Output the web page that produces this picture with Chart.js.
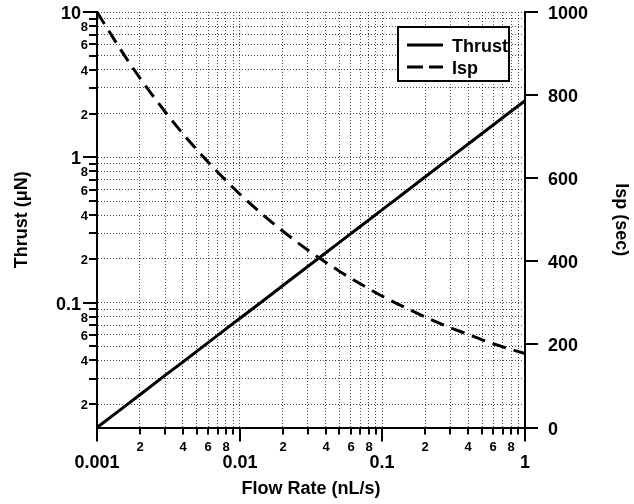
<!DOCTYPE html>
<html>
<head>
<meta charset="utf-8">
<script src="https://cdn.jsdelivr.net/npm/chart.js@4"></script>
<style>
  body { margin: 0; background: #fff; }
</style>
</head>
<body>
<canvas id="chart" width="634" height="504"></canvas>
<script>
// values
const flowRates = [0.001, 0.0015, 0.002, 0.003, 0.004, 0.005, 0.007, 0.01, 0.015, 0.02, 0.03, 0.04, 0.05, 0.07, 0.1, 0.15, 0.2, 0.3, 0.4, 0.5, 0.7, 1];
const thrust = [0.0138, 0.0187, 0.0232, 0.0315, 0.039, 0.0461, 0.0594, 0.0776, 0.105, 0.1305, 0.177, 0.2195, 0.2595, 0.334, 0.436, 0.591, 0.734, 0.995, 1.234, 1.459, 1.878, 2.45];
const isp = [1000, 904, 841, 760, 707, 669, 615, 562, 508, 473, 427, 398, 376, 346, 316, 286, 266, 240, 224, 211, 194, 178];

const xTickValues = [0.001, 0.002, 0.003, 0.004, 0.005, 0.006, 0.007, 0.008, 0.009,
  0.01, 0.02, 0.03, 0.04, 0.05, 0.06, 0.07, 0.08, 0.09,
  0.1, 0.2, 0.3, 0.4, 0.5, 0.6, 0.7, 0.8, 0.9, 1];
const xTickLabels = ['0.001', '2', '', '4', '', '6', '', '8', '',
  '0.01', '2', '', '4', '', '6', '', '8', '',
  '0.1', '2', '', '4', '', '6', '', '8', '', '1'];

const thrustTickValues = [0.02, 0.03, 0.04, 0.05, 0.06, 0.07, 0.08, 0.09,
  0.1, 0.2, 0.3, 0.4, 0.5, 0.6, 0.7, 0.8, 0.9,
  1, 2, 3, 4, 5, 6, 7, 8, 9, 10];
const thrustTickLabels = ['2', '', '4', '', '6', '', '8', '',
  '0.1', '2', '', '4', '', '6', '', '8', '',
  '1', '2', '', '4', '', '6', '', '8', '', '10'];

const ispTickValues = [0, 200, 400, 600, 800, 1000];

const FONT = "'Liberation Sans', Arial, sans-serif";

function isDecade(v) {
  const l = Math.log10(v);
  return Math.abs(l - Math.round(l)) < 1e-9;
}

// tick marks, tick labels and the boxed legend
const axisExtras = {
  id: 'axisExtras',
  afterDraw(chart) {
    const { ctx, chartArea, scales } = chart;
    const ca = chartArea;
    ctx.save();
    ctx.strokeStyle = '#000';
    ctx.fillStyle = '#000';
    ctx.lineWidth = 2;

    const tick = (x1, y1, x2, y2) => {
      ctx.beginPath();
      ctx.moveTo(x1, y1);
      ctx.lineTo(x2, y2);
      ctx.stroke();
    };

    // bottom axis
    ctx.textAlign = 'center';
    ctx.textBaseline = 'alphabetic';
    xTickValues.forEach((v, i) => {
      const px = Math.round(scales.x.getPixelForValue(v));
      const major = isDecade(v);
      tick(px, ca.bottom, px, ca.bottom + (major ? 14 : 7));
      if (!xTickLabels[i]) return;
      if (major) {
        ctx.font = `bold 18px ${FONT}`;
        ctx.fillText(xTickLabels[i], px, ca.bottom + 40);
      } else {
        ctx.font = `bold 13px ${FONT}`;
        ctx.fillText(xTickLabels[i], px, ca.bottom + 23);
      }
    });

    // left axis
    ctx.textAlign = 'right';
    thrustTickValues.forEach((v, i) => {
      const py = Math.round(scales.y.getPixelForValue(v));
      const major = isDecade(v);
      tick(ca.left, py, ca.left - (major ? 14 : 8), py);
      if (!thrustTickLabels[i]) return;
      if (major) {
        ctx.font = `bold 18px ${FONT}`;
        ctx.fillText(thrustTickLabels[i], ca.left - 16, py + 7);
      } else {
        ctx.font = `bold 13px ${FONT}`;
        ctx.fillText(thrustTickLabels[i], ca.left - 9, py + 4.5);
      }
    });

    // right axis
    ctx.textAlign = 'left';
    ctx.font = `bold 18px ${FONT}`;
    ispTickValues.forEach(v => {
      const py = Math.round(scales.y1.getPixelForValue(v));
      tick(ca.right, py, ca.right + 13, py);
      ctx.fillText(String(v), ca.right + 23, py + 7);
    });

    // legend
    const bw = 111, bh = 54;
    const bx = ca.right - 16 - bw, by = ca.top + 15;
    ctx.fillStyle = '#fff';
    ctx.fillRect(bx, by, bw, bh);
    ctx.strokeRect(bx, by, bw, bh);
    ctx.fillStyle = '#000';
    ctx.font = `bold 18px ${FONT}`;
    ctx.textAlign = 'left';
    chart.data.datasets.forEach((ds, i) => {
      const ry = by + 18 + i * 22;
      ctx.lineWidth = ds.borderWidth;
      ctx.setLineDash(ds.borderDash ? [16, 6] : []);
      tick(bx + 9, ry, bx + 45, ry);
      ctx.setLineDash([]);
      ctx.fillText(ds.label, bx + 54, ry + 7);
    });
    ctx.restore();
  }
};

const gridStyle = {
  color: 'rgba(0,0,0,0.7)',
  lineWidth: 1,
  drawTicks: false
};

new Chart(document.getElementById('chart'), {
  type: 'line',
  data: {
    datasets: [{
      label: 'Thrust',
      data: flowRates.map((x, i) => ({ x, y: thrust[i] })),
      yAxisID: 'y',
      borderColor: '#000',
      borderWidth: 3,
      pointRadius: 0,
      fill: false,
      clip: false
    }, {
      label: 'Isp',
      data: flowRates.map((x, i) => ({ x, y: isp[i] })),
      yAxisID: 'y1',
      borderColor: '#000',
      borderWidth: 3,
      borderDash: [14, 8],
      cubicInterpolationMode: 'monotone',
      pointRadius: 0,
      fill: false,
      clip: false
    }]
  },
  options: {
    responsive: false,
    animation: false,
    devicePixelRatio: 1,
    layout: { padding: { top: 12, left: 0, right: 0, bottom: 0 } },
    plugins: { legend: { display: false }, tooltip: { enabled: false } },
    scales: {
      x: {
        type: 'logarithmic',
        position: 'bottom',
        min: 0.001,
        max: 1,
        afterBuildTicks: s => { s.ticks = xTickValues.map(v => ({ value: v })); },
        afterFit: s => { s.height = 76.5; },
        ticks: { display: false },
        grid: gridStyle,
        border: { display: true, color: '#000', width: 2, dash: [1, 2] },
        title: {
          display: true, text: 'Flow Rate (nL/s)', color: '#000',
          font: { family: FONT, size: 18, weight: 'bold' },
          padding: { top: 0, bottom: 4 }
        }
      },
      y: {
        type: 'logarithmic',
        position: 'left',
        min: 0.0138,
        max: 10,
        afterBuildTicks: s => { s.ticks = thrustTickValues.map(v => ({ value: v })); },
        afterFit: s => { s.width = 97; },
        ticks: { display: false },
        grid: gridStyle,
        border: { display: true, color: '#000', width: 2, dash: [1, 2] },
        title: {
          display: true, text: 'Thrust (μN)', color: '#000',
          font: { family: FONT, size: 18, weight: 'bold' },
          padding: { top: 11, bottom: 0 }
        }
      },
      y1: {
        type: 'linear',
        position: 'right',
        min: 0,
        max: 1000,
        afterBuildTicks: s => { s.ticks = ispTickValues.map(v => ({ value: v })); },
        afterFit: s => { s.width = 109; },
        ticks: { display: false },
        grid: { drawOnChartArea: false, drawTicks: false },
        border: { display: true, color: '#000', width: 2 },
        title: {
          display: true, text: 'Isp (sec)', color: '#000',
          font: { family: FONT, size: 18, weight: 'bold' },
          padding: { top: 2, bottom: 0 }
        }
      }
    }
  },
  plugins: [axisExtras]
});
</script>
</body>
</html>
